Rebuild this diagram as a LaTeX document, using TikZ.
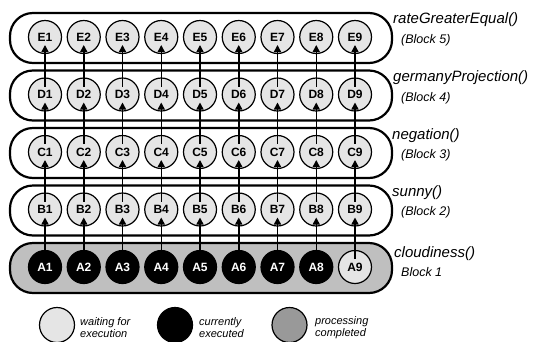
\documentclass[tikz,border=0pt]{standalone}
\usepackage{fontspec}
\setmainfont{Liberation Sans}
\usetikzlibrary{arrows.meta}
\begin{document}
\begin{tikzpicture}[x=1pt,y=-1pt,
 block/.style={draw=black,line width=2.2pt,rounded corners=23pt},
 task/.style={circle,draw=black,line width=1.2pt,fill=black!10,minimum size=33pt,inner sep=0pt,font=\fontsize{12}{12}\selectfont\bfseries},
 busy/.style={task,fill=black,text=white},
 flow/.style={line width=1.5pt,-{Triangle[length=7pt,width=7pt]}},
 fname/.style={anchor=west,inner sep=0pt,font=\fontsize{15}{15}\selectfont\itshape},
 bname/.style={anchor=west,inner sep=0pt,font=\fontsize{12.5}{12.5}\selectfont\itshape},
 legend/.style={anchor=west,align=left,inner sep=0pt,font=\fontsize{11}{12}\selectfont\itshape}]
 \useasboundingbox (0,0) rectangle (536,341);
 % blocks
 \draw[block] (10,13) rectangle (392,63);
 \draw[block] (10,70.5) rectangle (392,120.5);
 \draw[block] (10,128) rectangle (392,178);
 \draw[block] (10,185.5) rectangle (392,235.5);
 \draw[block,fill=black!25] (10,243) rectangle (392,293);
 % block names
 \node[fname] (nE) at (393,20) {rateGreaterEqual()};
 \node[bname] (bE) at (401,40) {(Block 5)};
 \node[fname] (nD) at (393,78) {germanyProjection()};
 \node[bname] (bD) at (401,98) {(Block 4)};
 \node[fname] (nC) at (392,136) {negation()};
 \node[bname] (bC) at (401,155) {(Block 3)};
 \node[fname] (nB) at (392,193) {sunny()};
 \node[bname] (bB) at (401,212) {(Block 2)};
 \node[fname] (nA) at (394,254) {cloudiness()};
 \node[bname] (bA) at (401,272) {Block 1};
 % tasks
 \node[task] (E1) at (45,37) {E1};
 \node[task] (E2) at (83.75,37) {E2};
 \node[task] (E3) at (122.5,37) {E3};
 \node[task] (E4) at (161.25,37) {E4};
 \node[task] (E5) at (200,37) {E5};
 \node[task] (E6) at (238.75,37) {E6};
 \node[task] (E7) at (277.5,37) {E7};
 \node[task] (E8) at (316.25,37) {E8};
 \node[task] (E9) at (355,37) {E9};
 \node[task] (D1) at (45,94.5) {D1};
 \node[task] (D2) at (83.75,94.5) {D2};
 \node[task] (D3) at (122.5,94.5) {D3};
 \node[task] (D4) at (161.25,94.5) {D4};
 \node[task] (D5) at (200,94.5) {D5};
 \node[task] (D6) at (238.75,94.5) {D6};
 \node[task] (D7) at (277.5,94.5) {D7};
 \node[task] (D8) at (316.25,94.5) {D8};
 \node[task] (D9) at (355,94.5) {D9};
 \node[task] (C1) at (45,152) {C1};
 \node[task] (C2) at (83.75,152) {C2};
 \node[task] (C3) at (122.5,152) {C3};
 \node[task] (C4) at (161.25,152) {C4};
 \node[task] (C5) at (200,152) {C5};
 \node[task] (C6) at (238.75,152) {C6};
 \node[task] (C7) at (277.5,152) {C7};
 \node[task] (C8) at (316.25,152) {C8};
 \node[task] (C9) at (355,152) {C9};
 \node[task] (B1) at (45,209.5) {B1};
 \node[task] (B2) at (83.75,209.5) {B2};
 \node[task] (B3) at (122.5,209.5) {B3};
 \node[task] (B4) at (161.25,209.5) {B4};
 \node[task] (B5) at (200,209.5) {B5};
 \node[task] (B6) at (238.75,209.5) {B6};
 \node[task] (B7) at (277.5,209.5) {B7};
 \node[task] (B8) at (316.25,209.5) {B8};
 \node[task] (B9) at (355,209.5) {B9};
 \node[busy] (A1) at (45,267) {A1};
 \node[busy] (A2) at (83.75,267) {A2};
 \node[busy] (A3) at (122.5,267) {A3};
 \node[busy] (A4) at (161.25,267) {A4};
 \node[busy] (A5) at (200,267) {A5};
 \node[busy] (A6) at (238.75,267) {A6};
 \node[busy] (A7) at (277.5,267) {A7};
 \node[busy] (A8) at (316.25,267) {A8};
 \node[task] (A9) at (355,267) {A9};
 % arrows
 \draw[flow] ([yshift=8pt]A1.center) -- ([yshift=-8pt]B1.center);
 \draw[flow] ([yshift=8pt]A2.center) -- ([yshift=-8pt]B2.center);
 \draw[flow] ([yshift=8pt]A3.center) -- ([yshift=-8pt]B3.center);
 \draw[flow] ([yshift=8pt]A4.center) -- ([yshift=-8pt]B4.center);
 \draw[flow] ([yshift=8pt]A5.center) -- ([yshift=-8pt]B5.center);
 \draw[flow] ([yshift=8pt]A6.center) -- ([yshift=-8pt]B6.center);
 \draw[flow] ([yshift=8pt]A7.center) -- ([yshift=-8pt]B7.center);
 \draw[flow] ([yshift=8pt]A8.center) -- ([yshift=-8pt]B8.center);
 \draw[flow] ([yshift=8pt]A9.center) -- ([yshift=-8pt]B9.center);
 \draw[flow] ([yshift=8pt]B1.center) -- ([yshift=-8pt]C1.center);
 \draw[flow] ([yshift=8pt]B2.center) -- ([yshift=-8pt]C2.center);
 \draw[flow] ([yshift=8pt]B3.center) -- ([yshift=-8pt]C3.center);
 \draw[flow] ([yshift=8pt]B4.center) -- ([yshift=-8pt]C4.center);
 \draw[flow] ([yshift=8pt]B5.center) -- ([yshift=-8pt]C5.center);
 \draw[flow] ([yshift=8pt]B6.center) -- ([yshift=-8pt]C6.center);
 \draw[flow] ([yshift=8pt]B7.center) -- ([yshift=-8pt]C7.center);
 \draw[flow] ([yshift=8pt]B8.center) -- ([yshift=-8pt]C8.center);
 \draw[flow] ([yshift=8pt]B9.center) -- ([yshift=-8pt]C9.center);
 \draw[flow] ([yshift=8pt]C1.center) -- ([yshift=-8pt]D1.center);
 \draw[flow] ([yshift=8pt]C2.center) -- ([yshift=-8pt]D2.center);
 \draw[flow] ([yshift=8pt]C3.center) -- ([yshift=-8pt]D3.center);
 \draw[flow] ([yshift=8pt]C4.center) -- ([yshift=-8pt]D4.center);
 \draw[flow] ([yshift=8pt]C5.center) -- ([yshift=-8pt]D5.center);
 \draw[flow] ([yshift=8pt]C6.center) -- ([yshift=-8pt]D6.center);
 \draw[flow] ([yshift=8pt]C7.center) -- ([yshift=-8pt]D7.center);
 \draw[flow] ([yshift=8pt]C8.center) -- ([yshift=-8pt]D8.center);
 \draw[flow] ([yshift=8pt]C9.center) -- ([yshift=-8pt]D9.center);
 \draw[flow] ([yshift=8pt]D1.center) -- ([yshift=-8pt]E1.center);
 \draw[flow] ([yshift=8pt]D2.center) -- ([yshift=-8pt]E2.center);
 \draw[flow] ([yshift=8pt]D3.center) -- ([yshift=-8pt]E3.center);
 \draw[flow] ([yshift=8pt]D4.center) -- ([yshift=-8pt]E4.center);
 \draw[flow] ([yshift=8pt]D5.center) -- ([yshift=-8pt]E5.center);
 \draw[flow] ([yshift=8pt]D6.center) -- ([yshift=-8pt]E6.center);
 \draw[flow] ([yshift=8pt]D7.center) -- ([yshift=-8pt]E7.center);
 \draw[flow] ([yshift=8pt]D8.center) -- ([yshift=-8pt]E8.center);
 \draw[flow] ([yshift=8pt]D9.center) -- ([yshift=-8pt]E9.center);
 % legend
 \node[task,minimum size=35pt] (waiting) at (57,325) {};
 \node[legend] (twaiting) at (80,328) {waiting for\\execution};
 \node[busy,minimum size=35pt] (current) at (175,325) {};
 \node[legend] (tcurrent) at (199,328) {currently\\executed};
 \node[task,fill=black!40,minimum size=35pt] (done) at (289.5,325) {};
 \node[legend] (tdone) at (315,328) {processing\\completed};
\end{tikzpicture}
\end{document}
